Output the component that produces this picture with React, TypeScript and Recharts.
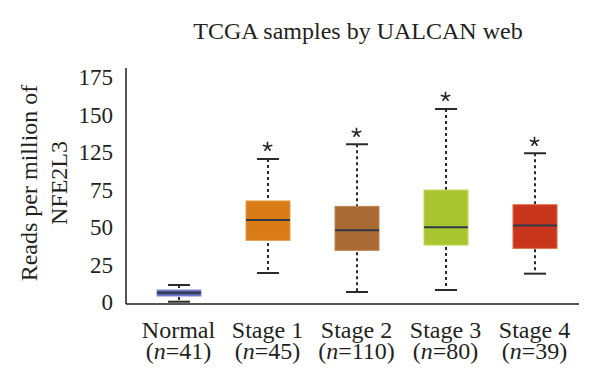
import { ComposedChart, Bar, Scatter, XAxis, YAxis, Label } from "recharts";

const categories = ["Normal", "Stage 1", "Stage 2", "Stage 3", "Stage 4"];
const sampleCounts = [41, 45, 110, 80, 39];
const whiskerLow = [1.7, 23, 8.9, 10.4, 22.5];
const quartile1 = [5.9, 47.2, 39.8, 43.7, 41.3];
const medians = [8.4, 62.3, 54.6, 56.9, 58.3];
const quartile3 = [10.4, 76.4, 72.4, 84.5, 73.6];
const whiskerHigh = [14.1, 107.5, 118.4, 144.6, 111.7];
const outliers = [null, 116.6, 127, 153.7, 120.3];

// labels printed on the y axis (as in the source figure, 100 is missing)
const yTickLabels = ["0", "25", "50", "75", "125", "150", "175"];
const yTickMarks = [0, 25, 50, 75, 100, 125, 150, 175];

const boxFill = ["#5a63b4", "#d97c17", "#a96a34", "#a9c52f", "#c8351c"];
const boxEdge = ["#8c93d4", "#e59a48", "#c08553", "#c3da5c", "#dd6540"];

const FONT = "'Liberation Serif', 'DejaVu Serif', serif";
const INK = "#231f20";

const data = categories.map((name, i) => ({
  name,
  n: sampleCounts[i],
  min: whiskerLow[i],
  q1: quartile1[i],
  median: medians[i],
  q3: quartile3[i],
  max: whiskerHigh[i],
  outlier: outliers[i],
}));

function BoxShape(props: any) {
  const { x, y, width, height, payload, index } = props;
  const { min, max, q1, q3, median } = payload;
  // pixel position from the bar's own scaled extent (min..max)
  const py = (v: number) => y + (height * (max - v)) / (max - min);
  const cx = x + width / 2;
  const cap = width * 0.5;
  return (
    <g>
      <line x1={cx} x2={cx} y1={py(max)} y2={py(min)} stroke="#2a2a2a" strokeWidth={2} strokeDasharray="3 3" />
      <line x1={cx - cap / 2} x2={cx + cap / 2} y1={py(max)} y2={py(max)} stroke="#2a2a2a" strokeWidth={2} />
      <line x1={cx - cap / 2} x2={cx + cap / 2} y1={py(min)} y2={py(min)} stroke="#2a2a2a" strokeWidth={2} />
      <rect
        x={x}
        y={py(q3)}
        width={width}
        height={py(q1) - py(q3)}
        fill={boxFill[index]}
        stroke={boxEdge[index]}
        strokeWidth={1}
      />
      <line x1={x} x2={x + width} y1={py(median)} y2={py(median)} stroke="#2e3a48" strokeWidth={2} />
    </g>
  );
}

function Star(props: any) {
  const { cx, cy } = props;
  if (cx == null || cy == null || props.payload?.outlier == null) return null;
  const r = 5;
  const arms = [90, 162, 234, 306, 18];
  return (
    <g stroke="#222" strokeWidth={1.6}>
      {arms.map((a) => {
        const rad = (a * Math.PI) / 180;
        return <line key={a} x1={cx} y1={cy} x2={cx + r * Math.cos(rad)} y2={cy - r * Math.sin(rad)} />;
      })}
    </g>
  );
}

function CategoryTick(props: any) {
  const { x, y, payload, index } = props;
  return (
    <g transform={`translate(${x},${y})`}>
      <text x={0} y={32} textAnchor="middle" fontFamily={FONT} fontSize={24} fill={INK}>
        {payload.value}
      </text>
      <text x={0} y={53} textAnchor="middle" fontFamily={FONT} fontSize={24} fill={INK}>
        (<tspan fontStyle="italic">n</tspan>={sampleCounts[index]})
      </text>
    </g>
  );
}

function YTitle(props: any) {
  const { viewBox } = props;
  const cy = viewBox.y + viewBox.height / 2 - 3;
  return (
    <g fontFamily={FONT} fontSize={24} fill={INK}>
      <text x={37} y={cy} textAnchor="middle" transform={`rotate(-90, 37, ${cy})`}>
        Reads per million of
      </text>
      <text x={67} y={cy} textAnchor="middle" transform={`rotate(-90, 67, ${cy})`}>
        NFE2L3
      </text>
    </g>
  );
}

export default function App() {
  return (
    <div style={{ position: "absolute", left: 0, top: 0, width: 600, height: 392, background: "#fff" }}>
      <ComposedChart width={600} height={392} data={data} margin={{ top: 68, right: 21, bottom: 0, left: 0 }}>
        <text x={358} y={39} textAnchor="middle" fontFamily={FONT} fontSize={24} fill={INK}>
          TCGA samples by UALCAN web
        </text>
        <XAxis
          dataKey="name"
          xAxisId="cat"
          padding={{ left: 8, right: 0 }}
          axisLine={{ stroke: "#1e1e1e", strokeWidth: 1.5 }}
          tickLine={false}
          tick={<CategoryTick />}
          tickSize={0}
          interval={0}
          height={88}
        />
        <YAxis
          yAxisId="a_marks"
          type="number"
          domain={[0, 175]}
          ticks={yTickMarks}
          allowDataOverflow
          width={1}
          tick={false}
          tickSize={-6}
          tickLine={{ stroke: "#1e1e1e", strokeWidth: 1.2 }}
          axisLine={{ stroke: "#1e1e1e", strokeWidth: 1.5 }}
        />
        <YAxis
          yAxisId="b_labels"
          type="number"
          domain={[-0.053, 6.24]}
          ticks={[0, 1, 2, 3, 4, 5, 6]}
          tickFormatter={(i: number) => yTickLabels[i]}
          allowDataOverflow
          width={125}
          axisLine={false}
          tickLine={false}
          tickSize={6}
          tickMargin={6}
          tick={{ fontFamily: FONT, fontSize: 23, fill: INK }}
        >
          <Label content={<YTitle />} />
        </YAxis>
        <Bar
          xAxisId="cat"
          yAxisId="a_marks"
          dataKey={(d: any) => [d.min, d.max]}
          barSize={44}
          shape={<BoxShape />}
          isAnimationActive={false}
        />
        <Scatter
          xAxisId="cat"
          yAxisId="a_marks"
          dataKey="outlier"
          shape={<Star />}
          isAnimationActive={false}
        />
      </ComposedChart>
    </div>
  );
}
